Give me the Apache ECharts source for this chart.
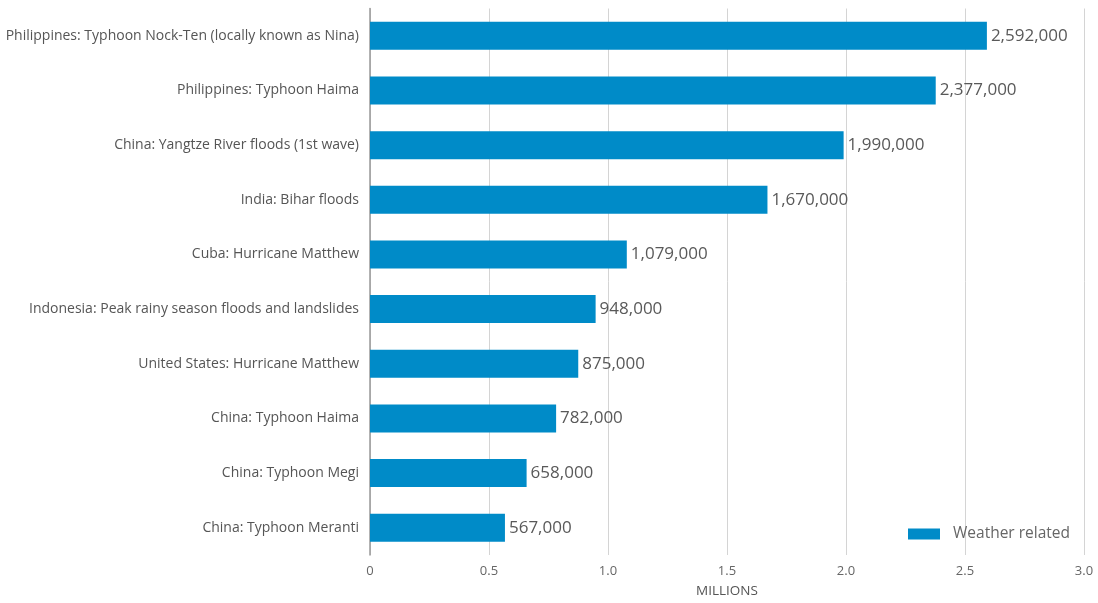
<!DOCTYPE html>
<html><head><meta charset="utf-8">
<script src="https://cdn.jsdelivr.net/npm/echarts@6/dist/echarts.min.js"></script>
<style>html,body{margin:0;padding:0;background:#fff}#c{width:1098px;height:603px}</style>
</head><body><div id="c"></div>
<script>
const categories = [
  "Philippines: Typhoon Nock-Ten (locally known as Nina)",
  "Philippines: Typhoon Haima",
  "China: Yangtze River floods (1st wave)",
  "India: Bihar floods",
  "Cuba: Hurricane Matthew",
  "Indonesia: Peak rainy season floods and landslides",
  "United States: Hurricane Matthew",
  "China: Typhoon Haima",
  "China: Typhoon Megi",
  "China: Typhoon Meranti"
];
const displaced = [2592000, 2377000, 1990000, 1670000, 1079000, 948000, 875000, 782000, 658000, 567000];
const xTicks = [0, 0.5, 1.0, 1.5, 2.0, 2.5, 3.0];
const seriesName = "Weather related";

const chart = echarts.init(document.getElementById('c'));
const font = "'Open Sans', 'Noto Sans', sans-serif";
chart.setOption({
  animation: false,
  textStyle: { fontFamily: font },
  grid: { left: 370, right: 14, top: 8.5, bottom: 44.5, containLabel: false },
  legend: {
    right: 23, bottom: 56, itemWidth: 32, itemHeight: 11, itemGap: 10,
    icon: 'rect',
    textStyle: { fontSize: 15.5, color: '#666', fontFamily: font, padding: [0, 0, 0, 8] },
    data: [seriesName]
  },
  xAxis: {
    type: 'value', min: 0, max: 3, interval: 0.5,
    name: 'MILLIONS', nameLocation: 'middle', nameGap: 29,
    nameTextStyle: { fontSize: 13.5, color: '#555' },
    axisLine: { show: false }, axisTick: { show: false },
    splitLine: { lineStyle: { color: '#d4d4d4', width: 1 } },
    axisLabel: { fontSize: 13, color: '#666', margin: 10,
      formatter: v => { const t = xTicks.find(x => Math.abs(x - v) < 1e-9); return t === 0 ? '0' : t.toFixed(1); } }
  },
  yAxis: {
    type: 'category', data: categories, inverse: true,
    axisLine: { show: true, lineStyle: { color: '#999', width: 1.5 } },
    axisTick: { show: false },
    axisLabel: { fontSize: 14, color: '#555', margin: 11 }
  },
  series: [{
    name: seriesName, type: 'bar', barWidth: 28,
    itemStyle: { color: '#008bc8' },
    data: displaced.map(v => v / 1e6),
    label: { show: true, position: 'right', distance: 4, fontSize: 17, color: '#595959',
      formatter: p => displaced[p.dataIndex].toLocaleString('en-US') }
  }]
});
</script></body></html>
